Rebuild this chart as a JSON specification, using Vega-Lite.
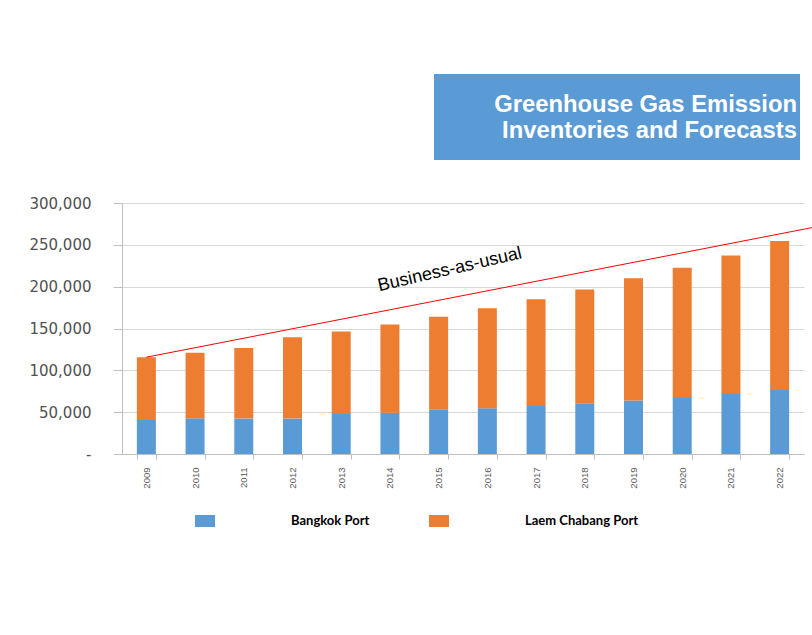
{
  "$schema": "https://vega.github.io/schema/vega-lite/v6.json",
  "autosize": {"type": "pad"},
  "padding": {"left": 12, "top": 74, "right": 0, "bottom": 0},
  "background": "white",
  "spacing": 36,
  "config": {
    "view": {"stroke": null},
    "font": "Liberation Sans"
  },
  "vconcat": [
    {
      "spacing": 0,
      "hconcat": [
        {
          "width": 312,
          "height": 86,
          "view": {"fill": "#FFFFFF", "stroke": null},
          "data": {"values": []},
          "mark": {"type": "point", "opacity": 0},
          "encoding": {}
        },
        {
          "width": 366,
          "height": 86,
          "view": {"fill": "#5B9BD5", "stroke": null},
          "title": {
            "text": ["Greenhouse Gas Emission", "Inventories and Forecasts"],
            "orient": "top",
            "anchor": "end",
            "offset": -69,
            "dx": -3,
            "font": "Liberation Sans",
            "fontSize": 23.8,
            "fontWeight": "bold",
            "lineHeight": 26,
            "color": "#FFFFFF"
          },
          "data": {"values": []},
          "mark": {"type": "point", "opacity": 0},
          "encoding": {}
        }
      ]
    },
    {
      "width": 682,
      "height": 251,
      "resolve": {"scale": {"x": "independent"}},
      "layer": [
        {
          "data": {
            "values": [
              {"year": "2009", "port": "Bangkok Port", "value": 40700},
              {"year": "2009", "port": "Laem Chabang Port", "value": 75000},
              {"year": "2010", "port": "Bangkok Port", "value": 42700},
              {"year": "2010", "port": "Laem Chabang Port", "value": 78200},
              {"year": "2011", "port": "Bangkok Port", "value": 42300},
              {"year": "2011", "port": "Laem Chabang Port", "value": 84500},
              {"year": "2012", "port": "Bangkok Port", "value": 42300},
              {"year": "2012", "port": "Laem Chabang Port", "value": 97300},
              {"year": "2013", "port": "Bangkok Port", "value": 47900},
              {"year": "2013", "port": "Laem Chabang Port", "value": 98500},
              {"year": "2014", "port": "Bangkok Port", "value": 49400},
              {"year": "2014", "port": "Laem Chabang Port", "value": 105400},
              {"year": "2015", "port": "Bangkok Port", "value": 53000},
              {"year": "2015", "port": "Laem Chabang Port", "value": 110900},
              {"year": "2016", "port": "Bangkok Port", "value": 54700},
              {"year": "2016", "port": "Laem Chabang Port", "value": 119600},
              {"year": "2017", "port": "Bangkok Port", "value": 57400},
              {"year": "2017", "port": "Laem Chabang Port", "value": 127700},
              {"year": "2018", "port": "Bangkok Port", "value": 60200},
              {"year": "2018", "port": "Laem Chabang Port", "value": 136400},
              {"year": "2019", "port": "Bangkok Port", "value": 63800},
              {"year": "2019", "port": "Laem Chabang Port", "value": 146400},
              {"year": "2020", "port": "Bangkok Port", "value": 67000},
              {"year": "2020", "port": "Laem Chabang Port", "value": 155600},
              {"year": "2021", "port": "Bangkok Port", "value": 71800},
              {"year": "2021", "port": "Laem Chabang Port", "value": 165500},
              {"year": "2022", "port": "Bangkok Port", "value": 76600},
              {"year": "2022", "port": "Laem Chabang Port", "value": 177900}
            ]
          },
          "mark": {"type": "bar"},
          "encoding": {
            "x": {
              "field": "year",
              "type": "ordinal",
              "scale": {"paddingInner": 0.61, "paddingOuter": 0.305},
              "axis": {
                "title": null,
                "labelAngle": 270,
                "labelFont": "Liberation Sans",
                "labelFontSize": 9.5,
                "labelColor": "#595959",
                "labelPadding": 8,
                "tickSize": 5,
                "tickBand": "extent",
                "tickColor": "#bfbfbf",
                "domainColor": "#bfbfbf",
                "grid": false
              }
            },
            "y": {
              "field": "value",
              "type": "quantitative",
              "stack": "zero",
              "scale": {"domain": [0, 300000], "nice": false},
              "axis": {
                "title": null,
                "values": [0, 50000, 100000, 150000, 200000, 250000, 300000],
                "labelExpr": "datum.value == 0 ? '-' : format(datum.value, ',')",
                "labelFont": "DejaVu Sans",
                "labelFontSize": 15,
                "labelColor": "#505050",
                "labelPadding": 22,
                "tickSize": 9,
                "tickColor": "#bfbfbf",
                "domainColor": "#bfbfbf",
                "gridColor": "#d9d9d9",
                "minExtent": 110,
                "maxExtent": 110
              }
            },
            "color": {
              "field": "port",
              "type": "nominal",
              "scale": {"domain": ["Bangkok Port", "Laem Chabang Port"], "range": ["#5B9BD5", "#ED7D31"]},
              "legend": {
                "title": null,
                "orient": "none",
                "direction": "horizontal",
                "legendX": 73,
                "legendY": 437,
                "symbolType": "M-1,-0.6H1V0.6H-1Z",
                "symbolSize": 400,
                "symbolStrokeWidth": 0,
                "labelOffset": 76,
                "columnPadding": 59,
                "labelFont": "Lato",
                "labelFontWeight": "bold",
                "labelFontSize": 13,
                "labelColor": "#000000"
              }
            },
            "order": {"field": "port", "sort": "ascending"}
          }
        },
        {
          "data": {
            "values": [
              {"year": 2009, "value": 115700},
              {"year": 2022.7, "value": 271000}
            ]
          },
          "mark": {"type": "line", "color": "#FF0000", "strokeWidth": 1, "clip": false},
          "encoding": {
            "x": {"field": "year", "type": "quantitative", "scale": {"domain": [2008.5, 2022.5], "nice": false, "zero": false}, "axis": null},
            "y": {"field": "value", "type": "quantitative"}
          }
        },
        {
          "data": {
            "values": [
              {"year": 2015.23, "value": 220200, "label": "Business-as-usual"}
            ]
          },
          "mark": {"type": "text", "angle": 347, "font": "Liberation Sans", "fontSize": 18, "color": "#000000", "align": "center", "baseline": "middle"},
          "encoding": {
            "x": {"field": "year", "type": "quantitative", "scale": {"domain": [2008.5, 2022.5], "nice": false, "zero": false}, "axis": null},
            "y": {"field": "value", "type": "quantitative"},
            "text": {"field": "label"}
          }
        }
      ]
    }
  ]
}
